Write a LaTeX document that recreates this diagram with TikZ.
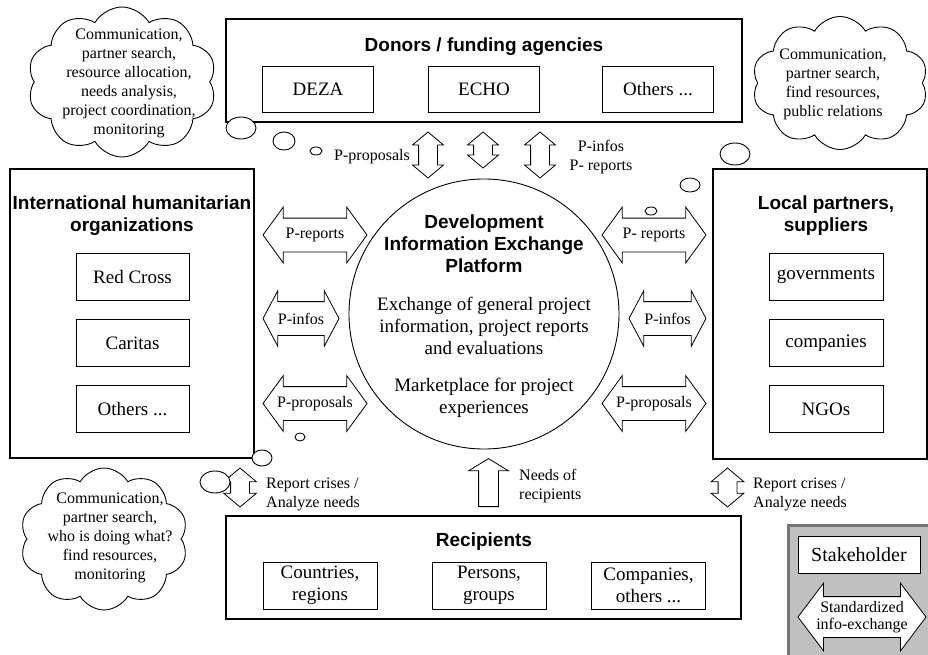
\documentclass[tikz,border=0pt]{standalone}
\usepackage{fontspec}
\setmainfont{Liberation Serif}
\setsansfont{Liberation Sans}
\usetikzlibrary{shapes.geometric, shapes.arrows, shapes.symbols, positioning}
\definecolor{legendGray}{RGB}{192, 192, 192}
\definecolor{legendEdge}{RGB}{118, 118, 118}

\begin{document}
\begin{tikzpicture}[
    x=1pt, y=-1pt,
    group/.style={
        rectangle,
        draw,
        line width=1.1pt,
        inner sep=0pt
    },
    member/.style={
        rectangle,
        draw,
        fill=white,
        line width=0.9pt,
        minimum width=113pt,
        minimum height=47pt,
        align=center,
        font=\fontsize{19}{22}\selectfont
    },
    heading/.style={
        align=center,
        inner sep=0pt,
        font=\sffamily\bfseries\fontsize{19}{22}\selectfont
    },
    note/.style={
        align=center,
        inner sep=0pt,
        font=\fontsize{16}{19}\selectfont
    },
    body/.style={
        align=center,
        inner sep=0pt,
        font=\fontsize{19}{22}\selectfont
    },
    exchange/.style={
        double arrow,
        draw,
        fill=white,
        line width=0.8pt,
        inner xsep=0pt,
        inner ysep=16.5pt,
        double arrow head extend=11pt,
        double arrow tip angle=108
    },
    upflow/.style={
        double arrow,
        draw,
        fill=white,
        line width=0.8pt,
        shape border rotate=90,
        inner sep=9pt,
        double arrow head extend=6pt,
        double arrow tip angle=100
    },
    thought/.style={
        cloud,
        draw,
        line width=0.9pt,
        cloud puffs=10,
        cloud puff arc=120,
        cloud ignores aspect,
        inner sep=0pt
    },
    bubble/.style={
        ellipse,
        draw,
        fill=white,
        line width=0.9pt,
        inner sep=0pt
    }
]
    \useasboundingbox (0,0) rectangle (928,655);

    % stakeholder groups
    \node[group, minimum width=516pt, minimum height=103pt] (donors) at (484,70.5) {};
    \node[heading] (donorsTitle) at (484,47) {Donors / funding agencies};
    \node[member, minimum width=111pt, minimum height=46pt] (deza) at (318,89) {DEZA};
    \node[member, minimum width=111pt, minimum height=46pt] (echo) at (484,89) {ECHO};
    \node[member, minimum width=111pt, minimum height=46pt] (donorsOthers) at (658,89) {Others ...};

    \node[group, minimum width=244pt, minimum height=289pt] (intl) at (132,313.5) {};
    \node[heading] (intlTitle) at (132,216) {International humanitarian\\organizations};
    \node[member] (redcross) at (132.5,276.5) {Red Cross};
    \node[member, below=18.5pt of redcross] (caritas) {Caritas};
    \node[member, below=18.5pt of caritas] (intlOthers) {Others ...};

    \node[group, minimum width=214pt, minimum height=290pt] (local) at (820,314) {};
    \node[heading] (localTitle) at (826,216) {Local partners,\\suppliers};
    \node[member, minimum width=114pt] (governments) at (826,276.5) {governments};
    \node[member, minimum width=114pt, below=18.5pt of governments] (companies) {companies};
    \node[member, minimum width=114pt, below=18.5pt of companies] (ngos) {NGOs};

    \node[group, minimum width=515pt, minimum height=103pt] (recipients) at (483.5,567.5) {};
    \node[heading] (recipientsTitle) at (484,542) {Recipients};
    \node[member, minimum width=114pt] (countries) at (320,585.5) {Countries,\\regions};
    \node[member, minimum width=114pt] (persons) at (489,585.5) {Persons,\\groups};
    \node[member, minimum width=114pt] (recipOthers) at (648.5,585.5) {Companies,\\others ...};

    % platform
    \node[circle, draw, line width=0.9pt, minimum size=270pt, inner sep=0pt] (platform) at (484,314) {};
    \node[heading] (platformTitle) at (484,244) {Development\\Information Exchange\\Platform};
    \node[body] (platformInfo) at (484,326) {Exchange of general project\\information, project reports\\and evaluations};
    \node[body] (platformMarket) at (484,398) {Marketplace for project\\experiences};

    % exchange arrows
    \node[exchange, minimum height=104pt] (reportsL) at (315,235) {};
    \node[note] (reportsLText) at (reportsL) {P-reports};
    \node[exchange, minimum height=76pt, double arrow tip angle=124] (infosL) at (301,318.5) {};
    \node[note] (infosLText) at (infosL) {P-infos};
    \node[exchange, minimum height=104pt] (proposalsL) at (315,403.5) {};
    \node[note] (proposalsLText) at (proposalsL) {P-proposals};

    \node[exchange, minimum height=104pt] (reportsR) at (654,235) {};
    \node[note] (reportsRText) at (reportsR) {P- reports};
    \node[exchange, minimum height=77pt, double arrow tip angle=124] (infosR) at (667.5,318.5) {};
    \node[note] (infosRText) at (infosR) {P-infos};
    \node[exchange, minimum height=104pt] (proposalsR) at (654,403.5) {};
    \node[note] (proposalsRText) at (proposalsR) {P-proposals};

    \node[upflow, minimum height=46pt] (proposalsT) at (428,155) {};
    \node[upflow, minimum height=36pt] (linkT) at (483,150) {};
    \node[upflow, minimum height=46pt] (infosT) at (540,155) {};
    \node[note] (proposalsTText) at (372,157) {P-proposals};
    \node[note] (infosTText) at (601,157) {P-infos\\P- reports};

    \node[upflow, minimum height=39pt, double arrow head extend=7pt] (crisesL) at (240,487.5) {};
    \node[note, anchor=west, align=left] (crisesLText) at (266,494) {Report crises /\\Analyze needs};
    \node[upflow, minimum height=39pt, double arrow head extend=7pt] (crisesR) at (727.5,487.5) {};
    \node[note, anchor=west, align=left] (crisesRText) at (753,494) {Report crises /\\Analyze needs};

    \node[single arrow, draw, fill=white, line width=0.8pt, shape border rotate=90,
          inner sep=9.5pt, single arrow head extend=10pt, single arrow tip angle=117,
          minimum height=48pt, anchor=tail] (needs) at (488.5,507) {};
    \node[note, anchor=west, align=left] (needsText) at (519,486) {Needs of\\recipients};

    % thoughts
    \node[thought, minimum width=189pt, minimum height=150pt] (thinkDonors) at (122,82) {};
    \node[note] (thinkDonorsText) at (129,83) {Communication,\\partner search,\\resource allocation,\\needs analysis,\\project coordination,\\monitoring};
    \node[bubble, minimum width=30pt, minimum height=22pt] (bubbleD1) at (241,128) {};
    \node[bubble, minimum width=22pt, minimum height=18pt] (bubbleD2) at (284,141) {};
    \node[bubble, minimum width=12pt, minimum height=8pt] (bubbleD3) at (316,151) {};

    \node[thought, minimum width=176pt, minimum height=133pt] (thinkLocal) at (840,83) {};
    \node[note] (thinkLocalText) at (833,84) {Communication,\\partner search,\\find resources,\\public relations};
    \node[bubble, minimum width=30pt, minimum height=22pt] (bubbleL1) at (735,154) {};
    \node[bubble, minimum width=20pt, minimum height=14pt] (bubbleL2) at (690,185) {};
    \node[bubble, minimum width=12pt, minimum height=8pt] (bubbleL3) at (651,211) {};

    \node[thought, minimum width=168pt, minimum height=142pt] (thinkIntl) at (104,539) {};
    \node[note] (thinkIntlText) at (110,538) {Communication,\\partner search,\\who is doing what?\\find resources,\\monitoring};
    \node[bubble, minimum width=30pt, minimum height=22pt] (bubbleI1) at (215,482) {};
    \node[bubble, minimum width=20pt, minimum height=16pt] (bubbleI2) at (262,458) {};
    \node[bubble, minimum width=10pt, minimum height=8pt] (bubbleI3) at (300,437) {};

    % legend
    \node[rectangle, fill=legendGray, draw=legendEdge, line width=3pt,
          minimum width=144pt, minimum height=134pt] (legend) at (860,592) {};
    \node[member, minimum width=122pt, minimum height=37pt, font=\fontsize{20}{22}\selectfont] (legendStakeholder) at (859,554.5) {Stakeholder};
    \node[exchange, minimum height=128pt, inner ysep=20pt, double arrow head extend=13.5pt,
          double arrow tip angle=106] (legendExchange) at (862,617) {};
    \node[note, font=\fontsize{16}{16.5}\selectfont] (legendExchangeText) at (legendExchange) {Standardized\\info-exchange};

\end{tikzpicture}
\end{document}
